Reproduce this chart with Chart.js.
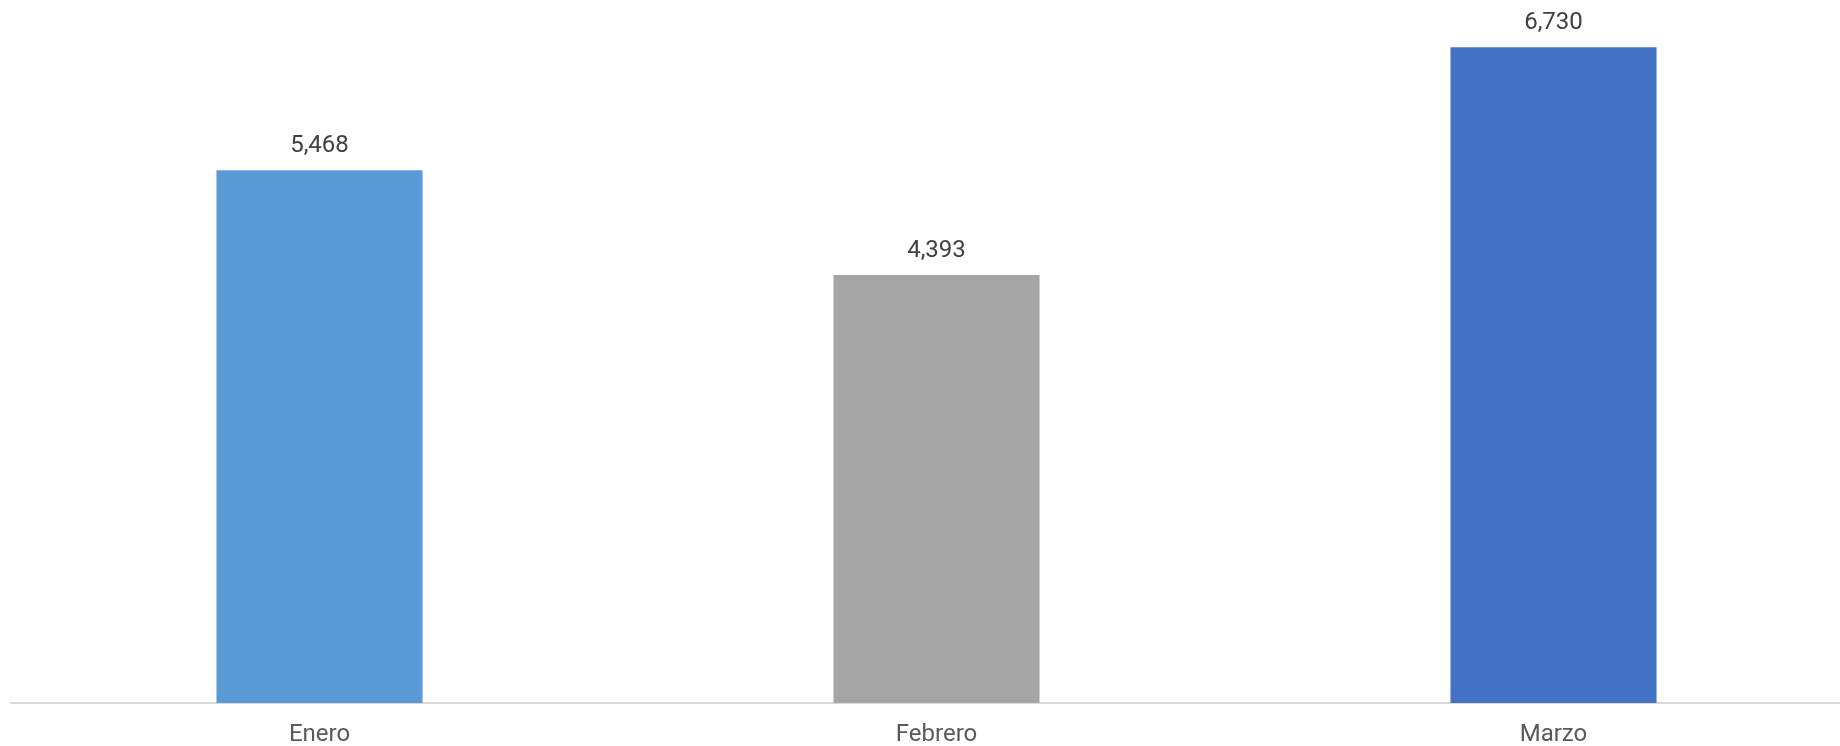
<!DOCTYPE html>
<html>
<head>
<meta charset="utf-8">
<script src="https://cdn.jsdelivr.net/npm/chart.js@4.4.1/dist/chart.umd.min.js"></script>
<style>
  html, body { margin: 0; padding: 0; background: #ffffff; overflow: hidden; width: 1840px; height: 746px; }
  #wrap { position: absolute; left: 0; top: 0; width: 1862px; height: 746px; }
</style>
</head>
<body>
<div id="wrap"><canvas id="c"></canvas></div>
<script>
const categories = ["Enero", "Febrero", "Marzo"];
const values = [5468, 4393, 6730];
const barColors = ["#5B9BD5", "#A5A5A5", "#4472C4"];

const valueLabels = {
  id: "valueLabels",
  afterDatasetsDraw(chart) {
    const ctx = chart.ctx;
    const meta = chart.getDatasetMeta(0);
    ctx.save();
    ctx.font = "24px Roboto";
    ctx.fillStyle = "#404040";
    ctx.textAlign = "center";
    ctx.textBaseline = "middle";
    meta.data.forEach((bar, i) => {
      ctx.fillText(values[i].toLocaleString("en-US"), bar.x, bar.y - 24);
    });
    ctx.restore();
  }
};

new Chart(document.getElementById("c"), {
  type: "bar",
  data: {
    labels: categories,
    datasets: [{
      data: values,
      backgroundColor: barColors,
      borderWidth: 0,
      categoryPercentage: 1,
      barPercentage: 0.334
    }]
  },
  options: {
    responsive: true,
    maintainAspectRatio: false,
    animation: false,
    layout: { padding: { left: 11, right: 0, top: 21, bottom: 0 } },
    plugins: { legend: { display: false }, tooltip: { enabled: false } },
    scales: {
      x: {
        grid: { display: false, drawTicks: false },
        border: { display: true, color: "#d9d9d9", width: 2 },
        ticks: { color: "#595959", font: { family: "Roboto", size: 24 }, padding: 18 },
        afterFit(scale) { scale.height = 43; }
      },
      y: {
        display: false,
        min: 0,
        max: 7000
      }
    }
  },
  plugins: [valueLabels]
});
</script>
</body>
</html>
